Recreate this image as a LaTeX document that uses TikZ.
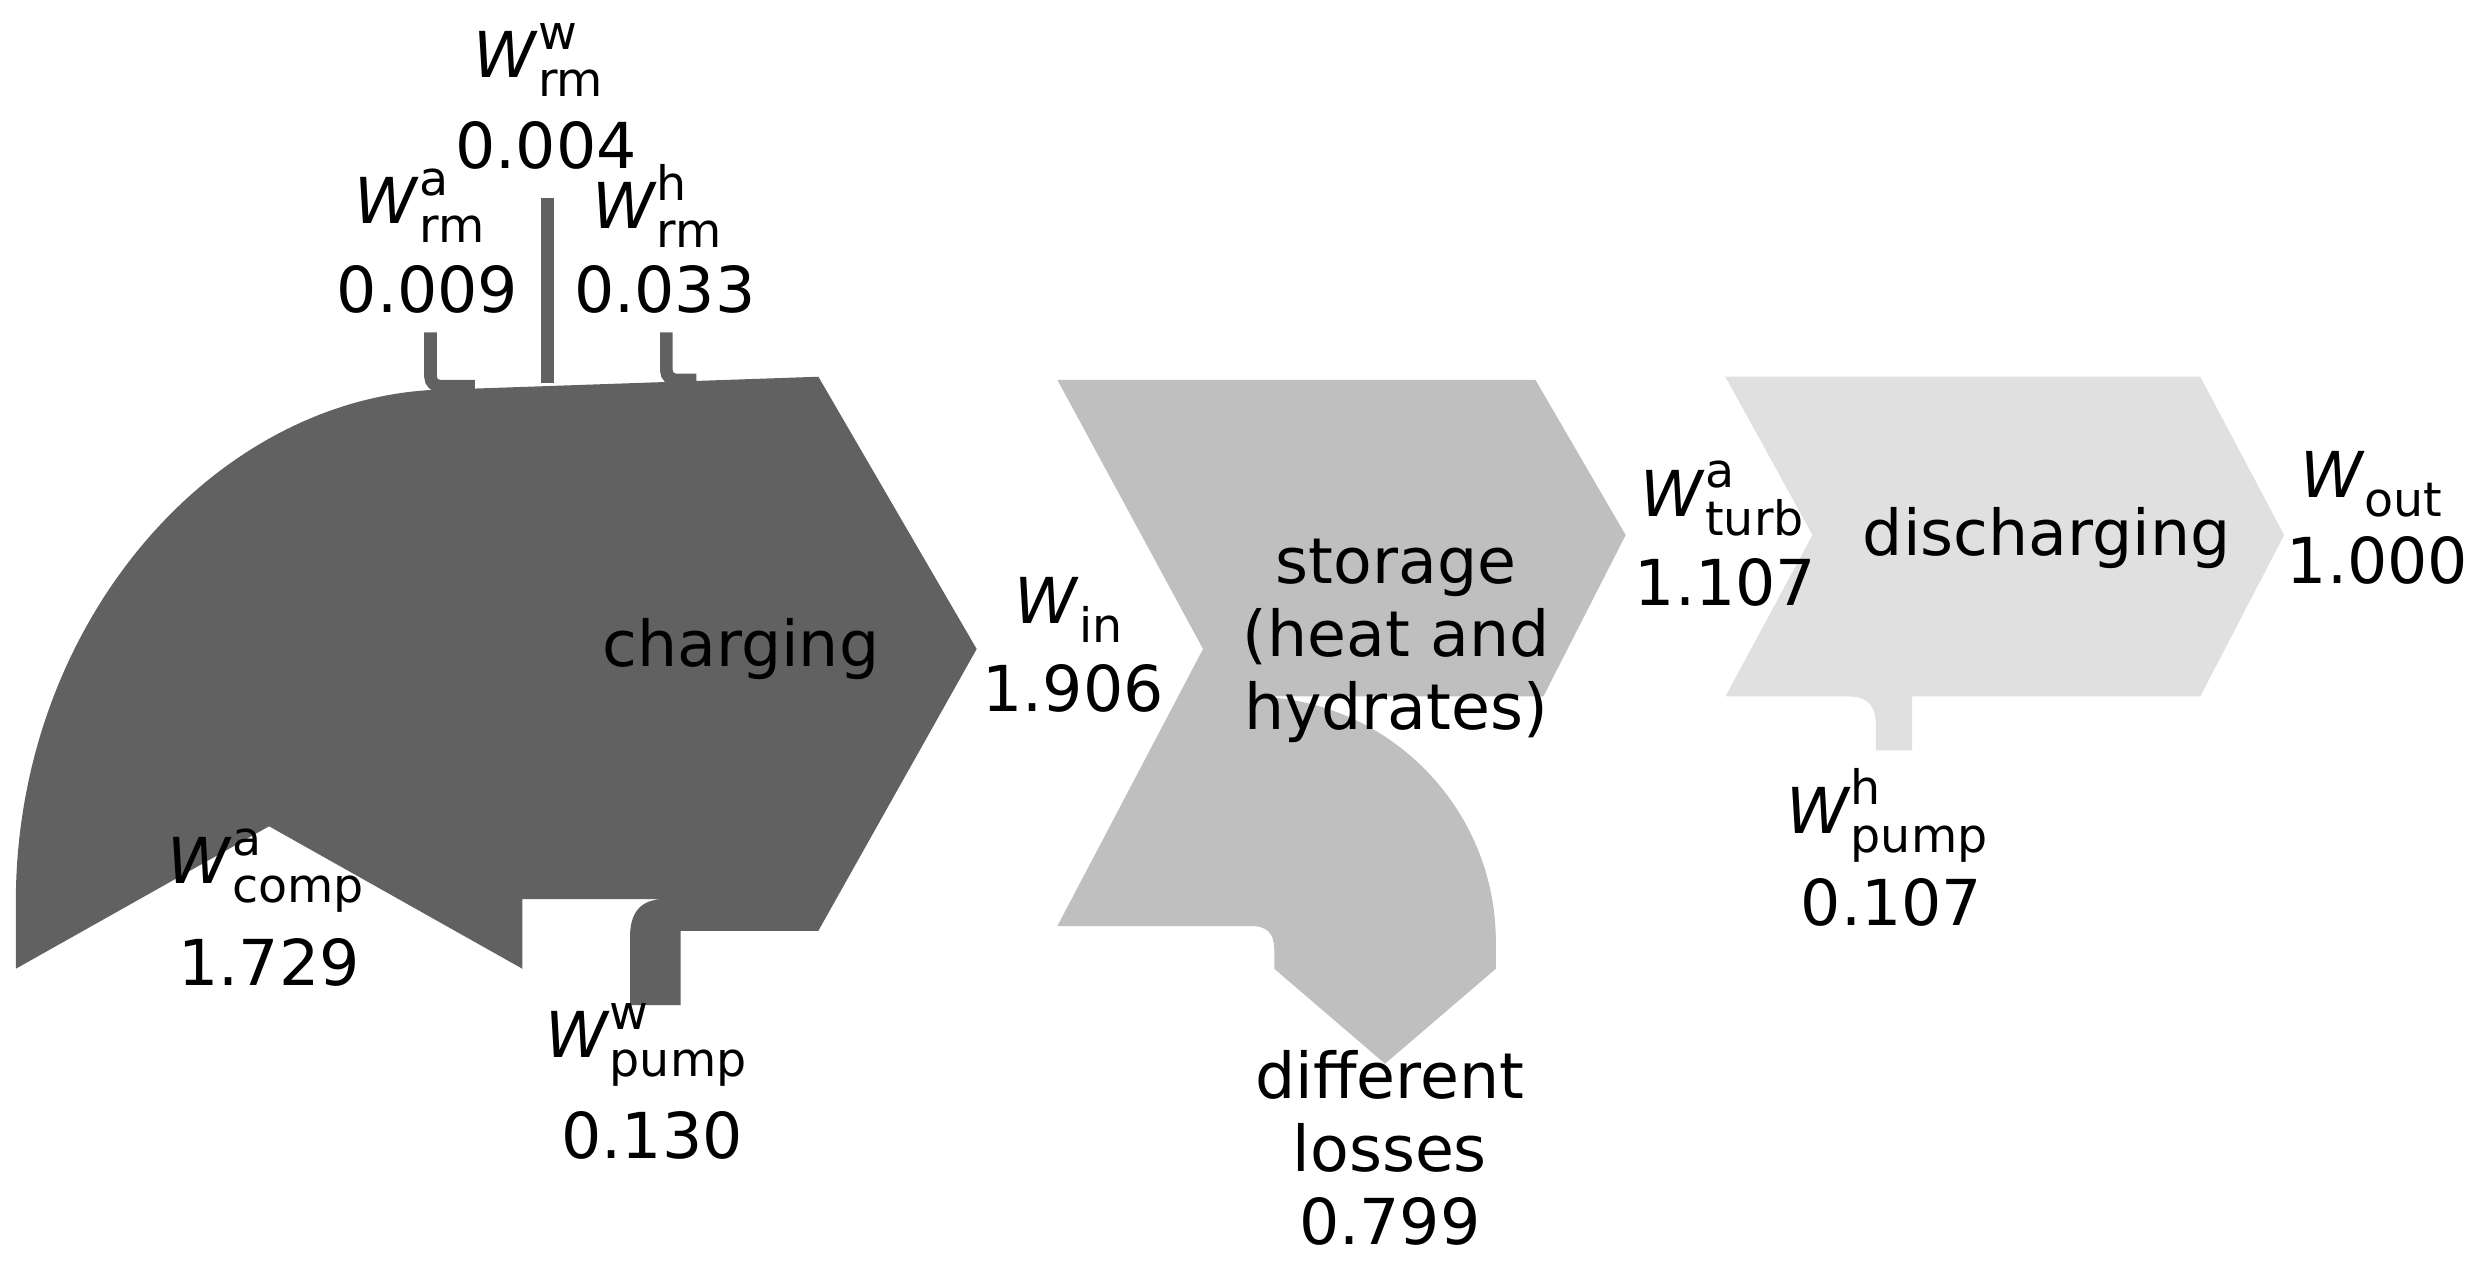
\documentclass[tikz,border=0pt]{standalone}
\usepackage{fontspec}
\setmainfont{DejaVu Sans}
\newcommand\WW[2]{\textit{W}\makebox[0pt][l]{\raisebox{0.45em}{\fontsize{30}{30}\selectfont #1}}\raisebox{-0.3em}{\fontsize{30}{30}\selectfont #2}}
\begin{document}
\begin{tikzpicture}[x=1pt,y=-1pt,
  lab/.style={font=\fontsize{40}{46}\selectfont,inner sep=0pt,align=center},
  dark/.style={fill=black!62,draw=none},
  mid/.style={fill=black!25,draw=none},
  light/.style={fill=black!12,draw=none},
  rmline/.style={draw=black!62,line width=8pt,rounded corners=6pt}]
\useasboundingbox (0,0) rectangle (1568,808);
% charging
\path[dark] (285,246) -- (517,238) -- (617,410) -- (517,588) -- (430,588) -- (430,635) -- (398,635) -- (398,592) .. controls (398,576) and (405,568) .. (420,568) -- (330,568) -- (330,612) -- (170,522) -- (10,612) -- (10,570) .. controls (10,390) and (140,246) .. (285,246) -- cycle;
\draw[rmline] (272,210) -- (272,244) -- (300,244);
\draw[rmline] (346,125) -- (346,242);
\draw[rmline] (421,210) -- (421,240) -- (440,240);
% storage
\path[mid] (668,240) -- (970,240) -- (1027,338) -- (975,440) -- (790,440) arc[start angle=-90,end angle=0,radius=155] -- (945,612) -- (875,672) -- (805,612) -- (805,600) .. controls (805,589) and (800,585) .. (790,585) -- (668,585) -- (760,410) -- cycle;
% discharging
\path[light] (1090,238) -- (1390,238) -- (1443,338) -- (1390,440) -- (1208,440) -- (1208,474) -- (1185,474) -- (1185,458) .. controls (1185,446) and (1180,440) .. (1168,440) -- (1090,440) -- (1145,338) -- cycle;
% labels
\node[lab] (chg) at (468,410) {charging};
\node[lab] (sto) at (882,405) {storage\\(heat and\\hydrates)};
\node[lab] (dis) at (1293,340) {discharging};
\node[lab] (rmw) at (340,38) {\WW{w}{rm}};
\node[lab] (rmwv) at (345,92) {0.004};
\node[lab] (rma) at (265,130) {\WW{a}{rm}};
\node[lab] (rmav) at (270,183) {0.009};
\node[lab] (rmh) at (415,130) {\WW{h}{rm}};
\node[lab] (rmhv) at (420,183) {0.033};
\node[lab] (win) at (675,385) {\WW{}{in}};
\node[lab] (winv) at (678,435) {1.906};
\node[lab] (comp) at (168,550) {\WW{a}{comp}};
\node[lab] (compv) at (170,608) {1.729};
\node[lab] (pw) at (408,660) {\WW{w}{pump}};
\node[lab] (pwv) at (412,717) {0.130};
\node[lab] (loss) at (878,725) {different\\losses\\0.799};
\node[lab] (turb) at (1088,315) {\WW{a}{turb}};
\node[lab] (turbv) at (1090,368) {1.107};
\node[lab] (wout) at (1498,306) {\WW{}{out}};
\node[lab] (woutv) at (1502,354) {1.000};
\node[lab] (ph) at (1192,515) {\WW{h}{pump}};
\node[lab] (phv) at (1195,570) {0.107};
\end{tikzpicture}
\end{document}
